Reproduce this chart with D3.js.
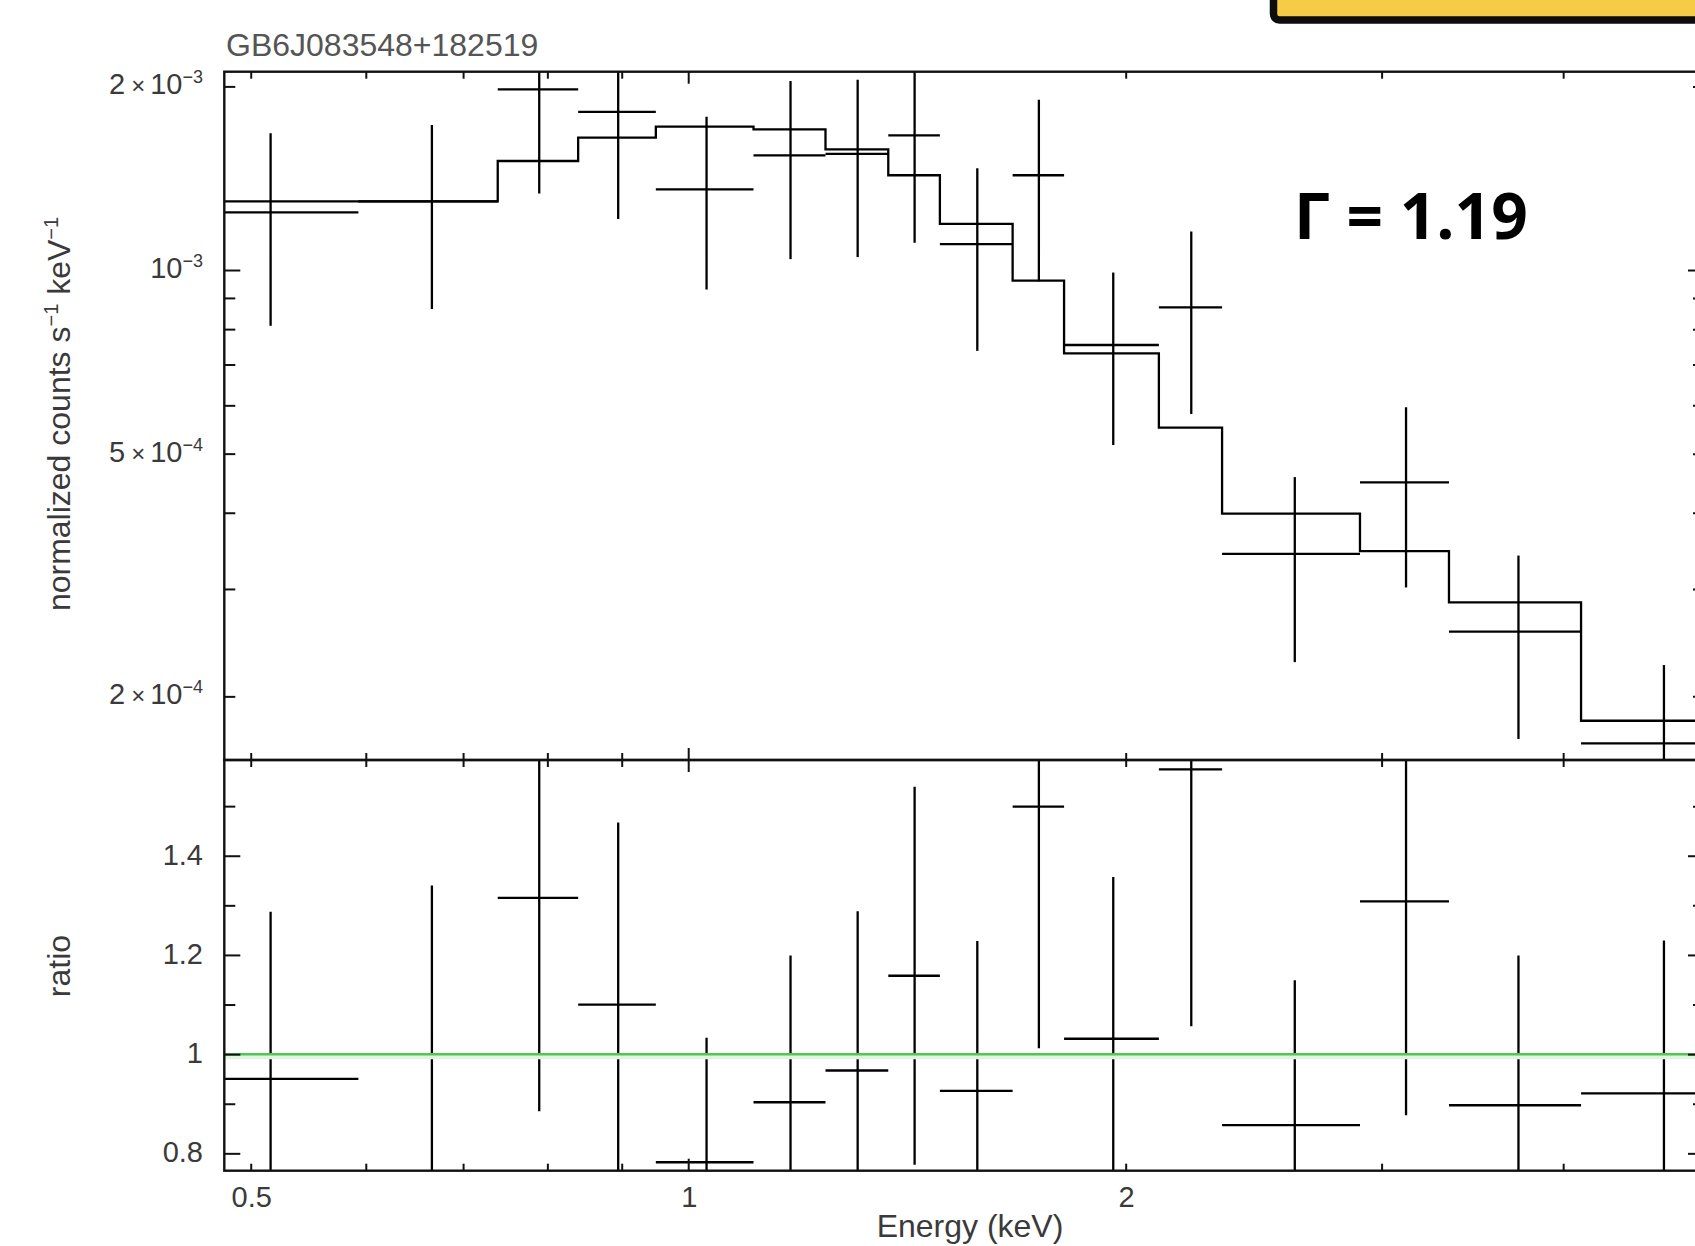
<!DOCTYPE html>
<html lang="en">
<head>
    <meta charset="utf-8">
    <title>GB6J083548+182519 spectrum</title>
    <script src="https://d3js.org/d3.v7.min.js"></script>
    <style>
        body { margin: 0; background: #fff; }
        svg { display: block; }
        .lbl { font-family: "Liberation Sans", Arial, Helvetica, sans-serif; fill: #3a3a3a; }
        .tick line { stroke: #111; stroke-width: 2px; }
    </style>
</head>
<body>
<script type="text/javascript">

    // bin edges (keV)
    var eLo = [0.439, 0.593, 0.7395, 0.840, 0.950, 1.109, 1.243, 1.373, 1.490, 1.672, 1.814, 2.108, 2.330, 2.899, 3.338, 4.115];
    var eHi = [0.593, 0.7395, 0.840, 0.950, 1.109, 1.243, 1.373, 1.490, 1.672, 1.814, 2.108, 2.330, 2.899, 3.338, 4.115, 5.27];

    // normalized counts s^-1 keV^-1 (x 1e-3)
    var counts   = [1.243, 1.296, 1.978, 1.816, 1.356, 1.542, 1.550, 1.663, 1.103, 1.430, 0.7535, 0.8687, 0.3426, 0.4487, 0.2553, 0.1675];
    var countErr = [0.433, 0.433, 0.643, 0.604, 0.427, 0.500, 0.500, 0.555, 0.366, 0.472, 0.237, 0.288, 0.115, 0.147, 0.085, 0.0576];
    var model    = [1.296, 1.296, 1.509, 1.648, 1.718, 1.701, 1.577, 1.430, 1.190, 0.9604, 0.7303, 0.5517, 0.3986, 0.3461, 0.2851, 0.1824];

    // data / model ratio
    var ratio    = [0.950, 1.000, 1.315, 1.100, 0.782, 0.903, 0.967, 1.158, 0.926, 1.499, 1.031, 1.574, 0.857, 1.308, 0.897, 0.921];
    var ratioErr = [0.337, 0.340, 0.430, 0.367, 0.251, 0.296, 0.321, 0.381, 0.302, 0.487, 0.326, 0.518, 0.292, 0.431, 0.302, 0.308];

    // ticks and labels
    var xMinor = [0.5, 0.6, 0.7, 0.8, 0.9, 2, 3, 4];
    var xMajor = [1];
    var xLabels = [0.5, 1, 2];
    var yMinor = [2e-4, 3e-4, 4e-4, 5e-4, 6e-4, 7e-4, 8e-4, 9e-4, 2e-3];
    var yMajor = [1e-3];
    var yLabelVals = [2e-3, 1e-3, 5e-4, 2e-4];
    var yLabelMant = ["2", "", "5", "2"];
    var yLabelExp  = ["\u22123", "\u22123", "\u22124", "\u22124"];
    var rMinor = [0.9, 1.1, 1.3, 1.5];
    var rMajor = [0.8, 1.0, 1.2, 1.4];
    var rLabels = ["0.8", "1", "1.2", "1.4"];

    var w = 1695, h = 1246;
    var pLeft = 224.3, pRight = 1704, pTop = 71.7, pMid = 760, pBottom = 1170.7;

    var svg = d3.select("body").append("svg")
            .attr("width", w)
            .attr("height", h);

    svg.append("rect").attr("width", w).attr("height", h).attr("fill", "#fff");

    var x = d3.scaleLog().domain([0.4795, 5]).range([pLeft, pRight]);
    var y = d3.scaleLog().domain([1.5729e-4, 2.1141e-3]).range([pMid, pTop]);
    var yr = d3.scaleLinear().domain([0.765, 1.593]).range([pBottom, pMid]);

    var defs = svg.append("defs");
    defs.append("clipPath").attr("id", "clipTop")
            .append("rect").attr("x", pLeft).attr("y", pTop).attr("width", pRight - pLeft).attr("height", pMid - pTop);
    defs.append("clipPath").attr("id", "clipBot")
            .append("rect").attr("x", pLeft).attr("y", pMid).attr("width", pRight - pLeft).attr("height", pBottom - pMid);

    var bins = eLo.map(function (lo, i) {
        return {lo: lo, hi: eHi[i], c: (lo + eHi[i]) / 2,
            v: counts[i] * 1e-3, e: countErr[i] * 1e-3, m: model[i] * 1e-3,
            r: ratio[i], re: ratioErr[i]};
    });

    // ---- top panel
    var gTop = svg.append("g").attr("clip-path", "url(#clipTop)");

    var steps = bins.map(function (d) { return [d.lo, d.m]; });
    steps.push([bins[bins.length - 1].hi, bins[bins.length - 1].m]);
    var stepLine = d3.line()
            .x(function (d) { return x(d[0]); })
            .y(function (d) { return y(d[1]); })
            .curve(d3.curveStepAfter);
    gTop.append("path").attr("d", stepLine(steps))
            .attr("fill", "none").attr("stroke", "#000").attr("stroke-width", 2.3);

    var ct = gTop.selectAll("g.pt").data(bins).enter().append("g").attr("class", "pt");
    ct.append("line")
            .attr("x1", function (d) { return x(d.lo); })
            .attr("x2", function (d) { return x(d.hi); })
            .attr("y1", function (d) { return y(d.v); })
            .attr("y2", function (d) { return y(d.v); });
    ct.append("line")
            .attr("x1", function (d) { return x(d.c); })
            .attr("x2", function (d) { return x(d.c); })
            .attr("y1", function (d) { return y(d.v + d.e); })
            .attr("y2", function (d) { return y(d.v - d.e); });
    ct.selectAll("line").attr("stroke", "#000").attr("stroke-width", 2.3);

    // ---- bottom panel
    var gBot = svg.append("g").attr("clip-path", "url(#clipBot)");
    var rt = gBot.selectAll("g.pt").data(bins).enter().append("g").attr("class", "pt");
    rt.append("line")
            .attr("x1", function (d) { return x(d.lo); })
            .attr("x2", function (d) { return x(d.hi); })
            .attr("y1", function (d) { return yr(d.r); })
            .attr("y2", function (d) { return yr(d.r); });
    rt.append("line")
            .attr("x1", function (d) { return x(d.c); })
            .attr("x2", function (d) { return x(d.c); })
            .attr("y1", function (d) { return yr(d.r + d.re); })
            .attr("y2", function (d) { return yr(d.r - d.re); });
    rt.selectAll("line").attr("stroke", "#000").attr("stroke-width", 2.3);

    // unity line
    gBot.append("line").attr("x1", pLeft).attr("x2", pRight)
            .attr("y1", yr(1) + 2).attr("y2", yr(1) + 2)
            .attr("stroke", "#dff5df").attr("stroke-width", 6);
    gBot.append("line").attr("x1", pLeft).attr("x2", pRight)
            .attr("y1", yr(1)).attr("y2", yr(1))
            .attr("stroke", "#55c455").attr("stroke-width", 2.5);

    // ---- ticks (inward)
    function ticks(axisFn, scale, vals, len, tx, ty) {
        var g = svg.append("g").attr("transform", "translate(" + tx + "," + ty + ")")
                .call(axisFn(scale).tickValues(vals).tickSize(-len).tickFormat(""));
        g.select(".domain").remove();
    }
    // x ticks
    [[d3.axisTop, pTop], [d3.axisBottom, pMid], [d3.axisTop, pMid], [d3.axisBottom, pBottom]].forEach(function (a) {
        ticks(a[0], x, xMinor, 7, 0, a[1]);
        ticks(a[0], x, xMajor, 12, 0, a[1]);
    });
    // y ticks
    ticks(d3.axisLeft, y, yMinor, 11, pLeft, 0);
    ticks(d3.axisLeft, y, yMajor, 16, pLeft, 0);
    ticks(d3.axisRight, y, yMinor, 11, pRight, 0);
    ticks(d3.axisRight, y, yMajor, 16, pRight, 0);
    ticks(d3.axisLeft, yr, rMinor, 11, pLeft, 0);
    ticks(d3.axisLeft, yr, rMajor, 16, pLeft, 0);
    ticks(d3.axisRight, yr, rMinor, 11, pRight, 0);
    ticks(d3.axisRight, yr, rMajor, 16, pRight, 0);

    // frames
    svg.append("rect").attr("x", pLeft).attr("y", pTop).attr("width", pRight - pLeft).attr("height", pMid - pTop)
            .attr("fill", "none").attr("stroke", "#111").attr("stroke-width", 2.4);
    svg.append("rect").attr("x", pLeft).attr("y", pMid).attr("width", pRight - pLeft).attr("height", pBottom - pMid)
            .attr("fill", "none").attr("stroke", "#111").attr("stroke-width", 2.4);

    // ---- labels
    var fs = 29;
    yLabelVals.forEach(function (v, i) {
        var t = svg.append("text").attr("class", "lbl")
                .attr("x", 203).attr("y", y(v) + 8)
                .attr("text-anchor", "end").attr("font-size", fs);
        if (yLabelMant[i]) {
            t.append("tspan").text(yLabelMant[i]);
            t.append("tspan").attr("dx", 6).attr("font-size", 24).text("\u00d7");
            t.append("tspan").attr("dx", 5).text("10");
        } else {
            t.append("tspan").text("10");
        }
        t.append("tspan").attr("dy", -11).attr("font-size", 18).text(yLabelExp[i]);
    });

    rMajor.forEach(function (v, i) {
        svg.append("text").attr("class", "lbl")
                .attr("x", 203).attr("y", yr(v) + 9)
                .attr("text-anchor", "end").attr("font-size", fs)
                .text(rLabels[i]);
    });

    xLabels.forEach(function (v) {
        svg.append("text").attr("class", "lbl")
                .attr("x", x(v) + 1).attr("y", 1207)
                .attr("text-anchor", "middle").attr("font-size", fs)
                .text(v);
    });

    svg.append("text").attr("class", "lbl")
            .attr("x", 970).attr("y", 1237)
            .attr("text-anchor", "middle").attr("font-size", 32)
            .text("Energy (keV)");

    var yt = svg.append("text").attr("class", "lbl")
            .attr("transform", "translate(70,414) rotate(-90)")
            .attr("text-anchor", "middle").attr("font-size", 32);
    yt.append("tspan").text("normalized counts s");
    yt.append("tspan").attr("dy", -12).attr("font-size", 20).text("\u22121");
    yt.append("tspan").attr("dy", 12).text(" keV");
    yt.append("tspan").attr("dy", -12).attr("font-size", 20).text("\u22121");

    svg.append("text").attr("class", "lbl")
            .attr("transform", "translate(70,966) rotate(-90)")
            .attr("text-anchor", "middle").attr("font-size", 32)
            .text("ratio");

    svg.append("text").attr("class", "lbl")
            .attr("x", 226).attr("y", 56).attr("font-size", 32)
            .style("fill", "#555")
            .text("GB6J083548+182519");

    // photon index annotation
    svg.append("text")
            .attr("x", 1294).attr("y", 239)
            .attr("font-family", "'Open Sans', 'Noto Sans', sans-serif")
            .attr("font-weight", "bold").attr("font-size", 64)
            .attr("fill", "#000")
            .text("\u0393 = 1.19");

    // yellow box at top right (cropped)
    svg.append("rect").attr("x", 1273.5).attr("y", -40).attr("width", 480).attr("height", 60)
            .attr("rx", 6)
            .attr("fill", "#f6cb46").attr("stroke", "#0d0d0d").attr("stroke-width", 7.5);

</script>
</body>
</html>
